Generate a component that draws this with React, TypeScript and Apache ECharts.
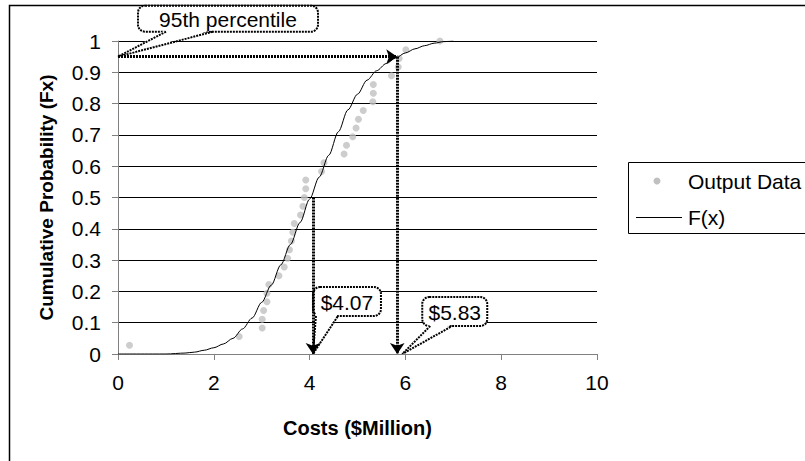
import React, { useEffect, useRef } from "react";
import * as echarts from "echarts";

const FONT = '"Liberation Sans", Arial, sans-serif';

// Sorted simulation outputs: cost ($Million) and cumulative probability
const outputCosts = [
  0.24, 2.53, 3.01, 3.01, 3.04, 3.11, 3.11, 3.15, 3.36, 3.47, 3.54, 3.58,
  3.62, 3.65, 3.68, 3.81, 3.86, 3.89, 3.92, 3.92, 4.25, 4.3, 4.72, 4.77,
  4.9, 4.97, 5.02, 5.12, 5.32, 5.33, 5.33, 5.71, 5.85, 5.87, 6.01, 6.72,
];
const outputProbs = [
  0.028, 0.056, 0.083, 0.111, 0.139, 0.167, 0.194, 0.222, 0.25, 0.278, 0.306,
  0.333, 0.361, 0.389, 0.417, 0.444, 0.472, 0.5, 0.528, 0.556, 0.583, 0.611,
  0.639, 0.667, 0.694, 0.722, 0.75, 0.778, 0.806, 0.833, 0.861, 0.889, 0.917,
  0.944, 0.972, 1.0,
];

// Fitted cumulative distribution F(x)
const fitCosts = [
  0, 1.0, 1.4, 1.6, 1.8, 2.0, 2.2, 2.4, 2.6, 2.8, 3.0, 3.2, 3.4, 3.6, 3.8, 4.0,
  4.2, 4.4, 4.6, 4.8, 5.0, 5.2, 5.4, 5.6, 5.8, 6.0, 6.2, 6.4, 6.6, 6.8, 7.0,
];
const fitProbs = [
  0, 0, 0.003, 0.006, 0.012, 0.02, 0.032, 0.05, 0.08, 0.115, 0.165, 0.22,
  0.285, 0.35, 0.42, 0.495, 0.565, 0.635, 0.71, 0.78, 0.83, 0.875, 0.905,
  0.928, 0.946, 0.962, 0.975, 0.985, 0.993, 0.998, 1.0,
];

// Percentile read-offs
const medianProb = 0.5;
const medianCost = 4.07;
const p95Prob = 0.95;
const p95Cost = 5.83;

const xRange = [0, 10, 2];
const yRange = [0, 1, 0.1];

type Pt = [number, number];

function callout(
  id: string,
  tip: Pt,
  box: { x: number; y: number; w: number; h: number },
  base: [number, number],
  text: string
) {
  const bottom = box.y + box.h;
  const dotted = { stroke: "#000", lineWidth: 2, lineDash: [2, 1] };
  return {
    type: "group",
    id,
    z: 100,
    children: [
      {
        type: "rect",
        shape: { x: box.x, y: box.y, width: box.w, height: box.h, r: 7 },
        style: { fill: "#fff", ...dotted },
      },
      {
        type: "polygon",
        shape: { points: [[base[0], bottom - 2], [base[1], bottom - 2], tip] },
        style: { fill: "#fff" },
      },
      {
        type: "polyline",
        shape: { points: [[base[0], bottom], tip, [base[1], bottom]] },
        style: { fill: null, ...dotted },
      },
      {
        type: "text",
        style: {
          text,
          x: box.x + box.w / 2,
          y: box.y + box.h / 2 + 1,
          align: "center",
          verticalAlign: "middle",
          font: `21px ${FONT}`,
          fill: "#000",
        },
      },
    ],
  };
}

export default function App() {
  const ref = useRef<HTMLDivElement>(null);

  useEffect(() => {
    if (!ref.current) return;
    const chart = echarts.init(ref.current, null, { renderer: "svg" });

    const dottedLine = { color: "#000", width: 3, type: [2, 1] as number[] };

    chart.setOption({
      animation: false,
      backgroundColor: "#fff",
      textStyle: { fontFamily: FONT },
      grid: {
        left: 118,
        right: 208,
        top: 41,
        bottom: 107,
        containLabel: false,
        outerBoundsMode: "none",
      },
      xAxis: {
        type: "value",
        min: xRange[0],
        max: xRange[1],
        interval: xRange[2],
        name: "Costs ($Million)",
        nameLocation: "middle",
        nameGap: 64,
        nameTextStyle: { fontFamily: FONT, fontSize: 20, fontWeight: "bold", color: "#000" },
        axisLine: { lineStyle: { color: "#808080", width: 1 } },
        axisTick: { show: true, length: 6, lineStyle: { color: "#808080" } },
        axisLabel: { fontFamily: FONT, fontSize: 21, color: "#000", margin: 18 },
        splitLine: { show: false },
      },
      yAxis: {
        type: "value",
        min: yRange[0],
        max: yRange[1],
        interval: yRange[2],
        name: "Cumulative Probability (Fx)",
        nameLocation: "middle",
        nameGap: 62,
        nameRotate: 90,
        nameTextStyle: { fontFamily: FONT, fontSize: 19, fontWeight: "bold", color: "#000" },
        axisLine: { show: true, lineStyle: { color: "#808080", width: 1 } },
        axisTick: { show: true, length: 6, lineStyle: { color: "#808080" } },
        axisLabel: { fontFamily: FONT, fontSize: 21, color: "#000", margin: 17 },
        splitLine: { show: true, lineStyle: { color: "#000", width: 1 } },
      },
      series: [
        {
          name: "Output Data",
          type: "scatter",
          data: outputCosts.map((c, i) => [c, outputProbs[i]]),
          symbol: "circle",
          symbolSize: 7,
          itemStyle: { color: "#C0C0C0" },
          z: 3,
        },
        {
          name: "F(x)",
          type: "line",
          data: fitCosts.map((c, i) => [c, fitProbs[i]]),
          showSymbol: false,
          symbol: "none",
          smooth: 0.3,
          smoothMonotone: "x",
          lineStyle: { color: "#000", width: 1 },
          z: 4,
          markLine: {
            silent: true,
            animation: false,
            symbol: ["none", "arrow"],
            symbolSize: 11,
            label: { show: false },
            emphasis: { disabled: true },
            lineStyle: dottedLine,
            z: 10,
            data: [
              [{ coord: [0, p95Prob] }, { coord: [p95Cost, p95Prob] }],
              [{ coord: [p95Cost, p95Prob] }, { coord: [p95Cost, 0] }],
              [{ coord: [medianCost, medianProb] }, { coord: [medianCost, 0] }],
            ],
          },
        },
      ],
    });

    const px = (x: number, y: number): Pt =>
      chart.convertToPixel({ gridIndex: 0 }, [x, y]) as Pt;

    const t95 = px(0, p95Prob);
    const tMed = px(medianCost, 0);
    const t95c = px(p95Cost, 0);
    const t95cTip: Pt = [t95c[0] + 5, t95c[1]];

    chart.setOption({
      graphic: [
        // chart frame
        {
          type: "rect",
          silent: true,
          z: -1,
          shape: { x: 9.5, y: 5.5, width: 900, height: 600 },
          style: { fill: "none", stroke: "#000", lineWidth: 1.5 },
        },
        callout(
          "c95",
          t95,
          { x: t95[0] + 20, y: t95[1] - 51, w: 180, h: 26 },
          [t95[0] + 48, t95[0] + 95],
          "95th percentile"
        ),
        callout(
          "cMed",
          tMed,
          { x: tMed[0], y: tMed[1] - 67, w: 68, h: 29 },
          [tMed[0] + 3, tMed[0] + 25],
          "$4.07"
        ),
        callout(
          "c95c",
          t95cTip,
          { x: t95cTip[0] + 20, y: t95cTip[1] - 57, w: 65, h: 29 },
          [t95cTip[0] + 28, t95cTip[0] + 50],
          "$5.83"
        ),
        // legend
        {
          type: "group",
          id: "legend",
          z: 50,
          children: [
            {
              type: "rect",
              shape: { x: 628.5, y: 162.5, width: 300, height: 71 },
              style: { fill: "#fff", stroke: "#000", lineWidth: 1 },
            },
            {
              type: "circle",
              shape: { cx: 657, cy: 181, r: 3.5 },
              style: { fill: "#C0C0C0" },
            },
            {
              type: "text",
              style: {
                text: "Output Data",
                x: 688,
                y: 181,
                verticalAlign: "middle",
                font: `21px ${FONT}`,
                fill: "#000",
              },
            },
            {
              type: "line",
              shape: { x1: 636, y1: 217.5, x2: 682, y2: 217.5 },
              style: { stroke: "#000", lineWidth: 1 },
            },
            {
              type: "text",
              style: {
                text: "F(x)",
                x: 688,
                y: 217,
                verticalAlign: "middle",
                font: `21px ${FONT}`,
                fill: "#000",
              },
            },
          ],
        },
      ],
    });

    return () => chart.dispose();
  }, []);

  return (
    <div
      ref={ref}
      style={{
        position: "fixed",
        left: 0,
        top: 0,
        width: 805,
        height: 461,
        background: "#fff",
      }}
    />
  );
}
